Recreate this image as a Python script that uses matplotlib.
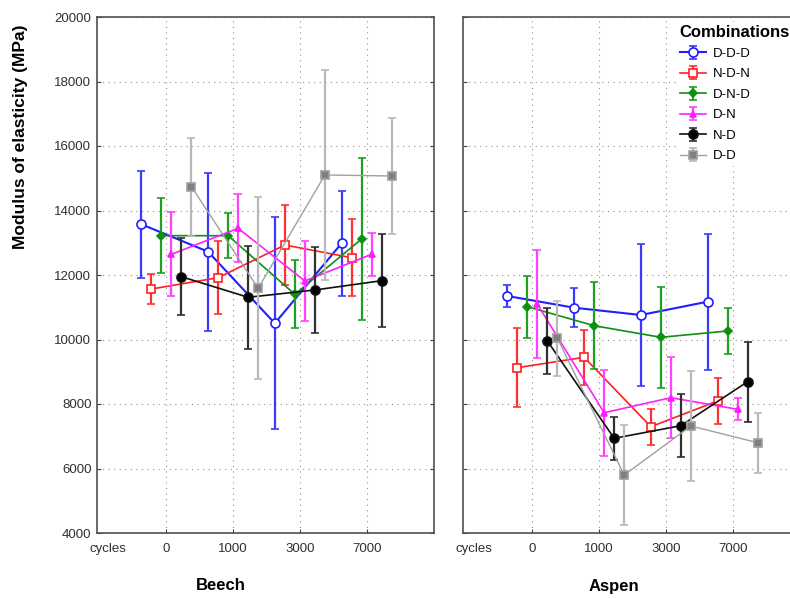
import matplotlib
matplotlib.use("Agg")
import matplotlib.pyplot as plt
import numpy as np

plt.rcParams["font.family"] = ["Liberation Sans", "DejaVu Sans"]

# x categories (cycles)
cycles = ["0", "1000", "3000", "7000"]
combos = ["D-D-D", "N-D-N", "D-N-D", "D-N", "N-D", "D-D"]

# Beech: mean MOE (MPa) and half-width of whiskers
beech_mean = {
    "D-D-D": [13572, 12723, 10502, 12983],
    "N-D-N": [11566, 11916, 12930, 12537],
    "D-N-D": [13219, 13219, 11402, 13116],
    "D-N":   [12642, 13448, 11814, 12642],
    "N-D":   [11947, 11309, 11535, 11823],
    "D-D":   [14738, 11588, 15101, 15070],
}
beech_err = {
    "D-D-D": [1666, 2454, 3282, 1624],
    "N-D-N": [456, 1132, 1240, 1200],
    "D-N-D": [1154, 692, 1059, 2507],
    "D-N":   [1307, 1059, 1230, 671],
    "N-D":   [1189, 1591, 1343, 1447],
    "D-D":   [1520, 2816, 3256, 1794],
}

# Aspen
aspen_mean = {
    "D-D-D": [11349, 10986, 10760, 11172],
    "N-D-N": [9126, 9448, 7296, 8093],
    "D-N-D": [11017, 10428, 10068, 10264],
    "D-N":   [11092, 7730, 8195, 7836],
    "N-D":   [9954, 6936, 7327, 8692],
    "D-D":   [10037, 5798, 7318, 6800],
}
aspen_err = {
    "D-D-D": [326, 596, 2210, 2108],
    "N-D-N": [1230, 859, 554, 724],
    "D-N-D": [966, 1343, 1570, 724],
    "D-N":   [1675, 1329, 1247, 346],
    "N-D":   [1019, 672, 983, 1241],
    "D-D":   [1168, 1551, 1706, 930],
}

# styling per combination
styles = {
    "D-D-D": dict(color="#2020ff", marker="o", mfc="white", ms=6.5, lw=1.5, ecolor="#3a3aff"),
    "N-D-N": dict(color="#ff2020", marker="s", mfc="white", ms=6, lw=1.2, ecolor="#ff3030"),
    "D-N-D": dict(color="#109010", marker="D", mfc="#109010", ms=4, lw=1.2, ecolor="#20a020"),
    "D-N":   dict(color="#ff20ff", marker="^", mfc="#ff20ff", ms=5, lw=1.2, ecolor="#ff40ff"),
    "N-D":   dict(color="#101010", marker="o", mfc="#000000", ms=6.5, lw=1.2, ecolor="#303030"),
    "D-D":   dict(color="#a0a0a0", marker="s", mfc="#808080", ms=6, lw=1.0, ecolor="#b8b8b8"),
}

fig = plt.figure(figsize=(7.9, 5.99), dpi=100)
W, H = 790, 599
ax_l = fig.add_axes([97 / W, 1 - 533 / H, 337 / W, 516 / H])
ax_r = fig.add_axes([463 / W, 1 - 533 / H, 337 / W, 516 / H])

xpos = np.arange(len(cycles))


def draw_panel(ax, means, errs):
    handles = []
    for i, name in enumerate(combos):
        st = styles[name]
        x = xpos + (i - 2.5) * 0.15
        h = ax.errorbar(
            x, means[name], yerr=errs[name],
            color=st["color"], lw=st["lw"], marker=st["marker"],
            ms=st["ms"], mfc=st["mfc"], mec=st["color"], mew=1.2,
            ecolor=st["ecolor"], elinewidth=1.6, capsize=3, capthick=1.2,
            label=name, zorder=3 + i,
        )
        handles.append(h)
    ax.set_xlim(-1.04, 4.01)
    ax.set_ylim(4000, 20000)
    ax.set_yticks(np.arange(4000, 20001, 2000))
    ax.set_xticks(xpos)
    ax.set_xticklabels(cycles)
    ax.grid(True, linestyle=(0, (1, 4)), color="#909090", lw=0.8)
    ax.tick_params(direction="in", length=3, labelsize=9.5, labelcolor="#303030",
                   color="#404040", right=True)
    ax.tick_params(axis="x", pad=7)
    ax.tick_params(axis="y", pad=4)
    for sp in ax.spines.values():
        sp.set_color("#505050")
        sp.set_linewidth(1.2)
    ax.text(-0.88, -0.02, "cycles", transform=ax.get_xaxis_transform(),
            ha="center", va="top", fontsize=9.5, color="#303030")
    return handles


draw_panel(ax_l, beech_mean, beech_err)
handles = draw_panel(ax_r, aspen_mean, aspen_err)
ax_r.tick_params(labelleft=False)

ax_l.set_ylabel("Modulus of elasticity (MPa)", fontsize=12.5, fontweight="bold")
ax_l.yaxis.set_label_coords((28 - 97) / 337, (533 - 137) / 516)

fig.text(221 / W, 1 - 586 / H, "Beech", ha="center", va="center",
         fontsize=12, fontweight="bold")
fig.text(614 / W, 1 - 586 / H, "Aspen", ha="center", va="center",
         fontsize=12, fontweight="bold")

leg = ax_r.legend(handles, combos, loc="upper left",
                  bbox_to_anchor=(677 / W, 1 - 22 / H), bbox_transform=fig.transFigure,
                  title="Combinations", frameon=True, fontsize=9.5,
                  title_fontproperties={"weight": "bold", "size": 12},
                  handlelength=2.0, labelspacing=0.62, borderpad=0.2,
                  handletextpad=0.5, borderaxespad=0, alignment="left")
leg.get_frame().set_edgecolor("white")
leg.get_frame().set_facecolor("white")
leg.get_frame().set_alpha(1)

fig.savefig("out.png", dpi=100)
